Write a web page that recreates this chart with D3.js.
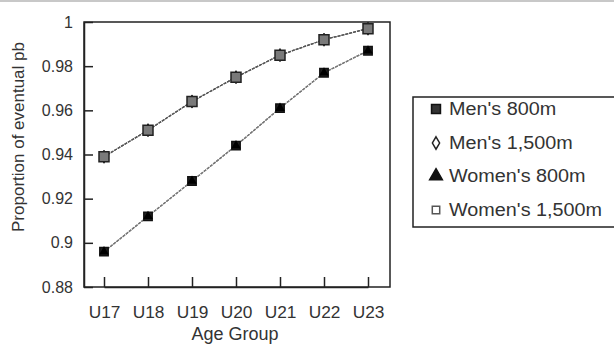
<!DOCTYPE html>
<html><head><meta charset="utf-8">
<script src="https://cdn.jsdelivr.net/npm/d3@7"></script>
<style>body{margin:0;background:#fff}svg{display:block}text{font-family:"Liberation Sans",Arial,sans-serif;fill:#333}</style>
</head><body><svg id="c" width="614" height="345"></svg>
<script>
const categories = ["U17","U18","U19","U20","U21","U22","U23"];
const mens800 = [0.939,0.951,0.964,0.975,0.985,0.992,0.997];
const mens1500 = [0.939,0.951,0.964,0.975,0.985,0.992,0.997];
const womens800 = [0.896,0.912,0.928,0.944,0.961,0.977,0.987];
const womens1500 = [0.896,0.912,0.928,0.944,0.961,0.977,0.987];
const yTicks = [0.88,0.9,0.92,0.94,0.96,0.98,1];
const yTickLabels = ["0.88","0.9","0.92","0.94","0.96","0.98","1"];
const seriesNames = ["Men's 800m","Men's 1,500m","Women's 800m","Women's 1,500m"];

const svg = d3.select("#c");
const L=84,R=390,T=22,B=287;
const x = d3.scalePoint().domain(categories).range([104,368]);
const y = d3.scaleLinear().domain([0.88,1]).range([B,T]);

svg.append("rect").attr("x",0).attr("y",0).attr("width",614).attr("height",2).attr("fill","#c8c8c8");

svg.append("rect").attr("x",L).attr("y",T).attr("width",R-L).attr("height",B-T)
  .attr("fill","none").attr("stroke","#222").attr("stroke-width",1.5);

const ya = svg.append("g").attr("transform",`translate(${L},0)`)
  .call(d3.axisLeft(y).tickValues(yTicks).tickFormat((d,i)=>yTickLabels[i]).tickSizeInner(-9).tickSizeOuter(0).tickPadding(11));
ya.select(".domain").attr("stroke","#222").attr("stroke-width",1.5);
ya.selectAll(".tick line").attr("stroke","#222").attr("stroke-width",1.5);
ya.selectAll("text").attr("font-size",16).attr("fill","#444").style("font-family","Liberation Sans, Arial");

const xa = svg.append("g").attr("transform",`translate(0,${B})`)
  .call(d3.axisBottom(x).tickSizeInner(-10).tickSizeOuter(0).tickPadding(20));
xa.select(".domain").attr("stroke","#222").attr("stroke-width",1.5);
xa.selectAll(".tick line").attr("stroke","#222").attr("stroke-width",1.5);
xa.selectAll("text").attr("font-size",16).attr("fill","#444").style("font-family","Liberation Sans, Arial");
xa.selectAll("text").each(function(){const w=this.getComputedTextLength();d3.select(this).attr("textLength",w*1.08).attr("lengthAdjust","spacingAndGlyphs");});

svg.append("text").attr("transform","translate(24,137) rotate(-90)").attr("text-anchor","middle")
  .attr("font-size",17).attr("fill","#555").text("Proportion of eventual pb");
svg.append("text").attr("x",235).attr("y",340).attr("text-anchor","middle")
  .attr("font-size",18).attr("fill","#444").text("Age Group");

const line = d3.line().x((d,i)=>x(categories[i])).y(d=>y(d));
function drawLine(vals,color){
  svg.append("path").attr("d",line(vals)).attr("fill","none").attr("stroke",color).attr("stroke-width",1.3).attr("stroke-dasharray","3,1");
}
drawLine(mens1500,"#555");
drawLine(mens800,"#555");
drawLine(womens800,"#777");
drawLine(womens1500,"#777");

const sym = (type,size)=>d3.symbol().type(type).size(size)();
svg.selectAll(".m15").data(mens1500).join("path").attr("transform",(d,i)=>`translate(${x(categories[i])},${y(d)})`)
  .attr("d",sym(d3.symbolDiamond,50)).attr("fill","#888").attr("stroke","#222");
svg.selectAll(".m8").data(mens800).join("path").attr("transform",(d,i)=>`translate(${x(categories[i])},${y(d)})`)
  .attr("d",sym(d3.symbolSquare,100)).attr("fill","#7a7a7a").attr("stroke","#222").attr("stroke-width",1.5);
svg.selectAll(".w15").data(womens1500).join("path").attr("transform",(d,i)=>`translate(${x(categories[i])},${y(d)})`)
  .attr("d",sym(d3.symbolSquare,70)).attr("fill","#222").attr("stroke","#111").attr("stroke-width",1.5);
svg.selectAll(".w8").data(womens800).join("path").attr("transform",(d,i)=>`translate(${x(categories[i])},${y(d)})`)
  .attr("d",sym(d3.symbolTriangle,40)).attr("fill","#000");

const lg = svg.append("g");
lg.append("rect").attr("x",413).attr("y",97).attr("width",210).attr("height",130).attr("fill","#fff").attr("stroke","#222").attr("stroke-width",1.5);
const ly = [109,143,176,210];
const legendSym = [
  {t:d3.symbolSquare,s:80,f:"#333",st:"#111"},
  {t:d3.symbolDiamond,s:45,f:"#fff",st:"#222"},
  {t:d3.symbolTriangle,s:70,f:"#111",st:"#111"},
  {t:d3.symbolSquare,s:55,f:"#fff",st:"#555"}
];
seriesNames.forEach((n,i)=>{
  lg.append("path").attr("transform",`translate(436,${ly[i]})`).attr("d",sym(legendSym[i].t,legendSym[i].s))
    .attr("fill",legendSym[i].f).attr("stroke",legendSym[i].st).attr("stroke-width",1.5);
  const t = lg.append("text").attr("x",449).attr("y",ly[i]).attr("dy","0.36em").attr("font-size",18).attr("fill","#444").text(n);
  const w = t.node().getComputedTextLength();
  t.attr("textLength",w*1.1).attr("lengthAdjust","spacingAndGlyphs");
});
</script></body></html>
